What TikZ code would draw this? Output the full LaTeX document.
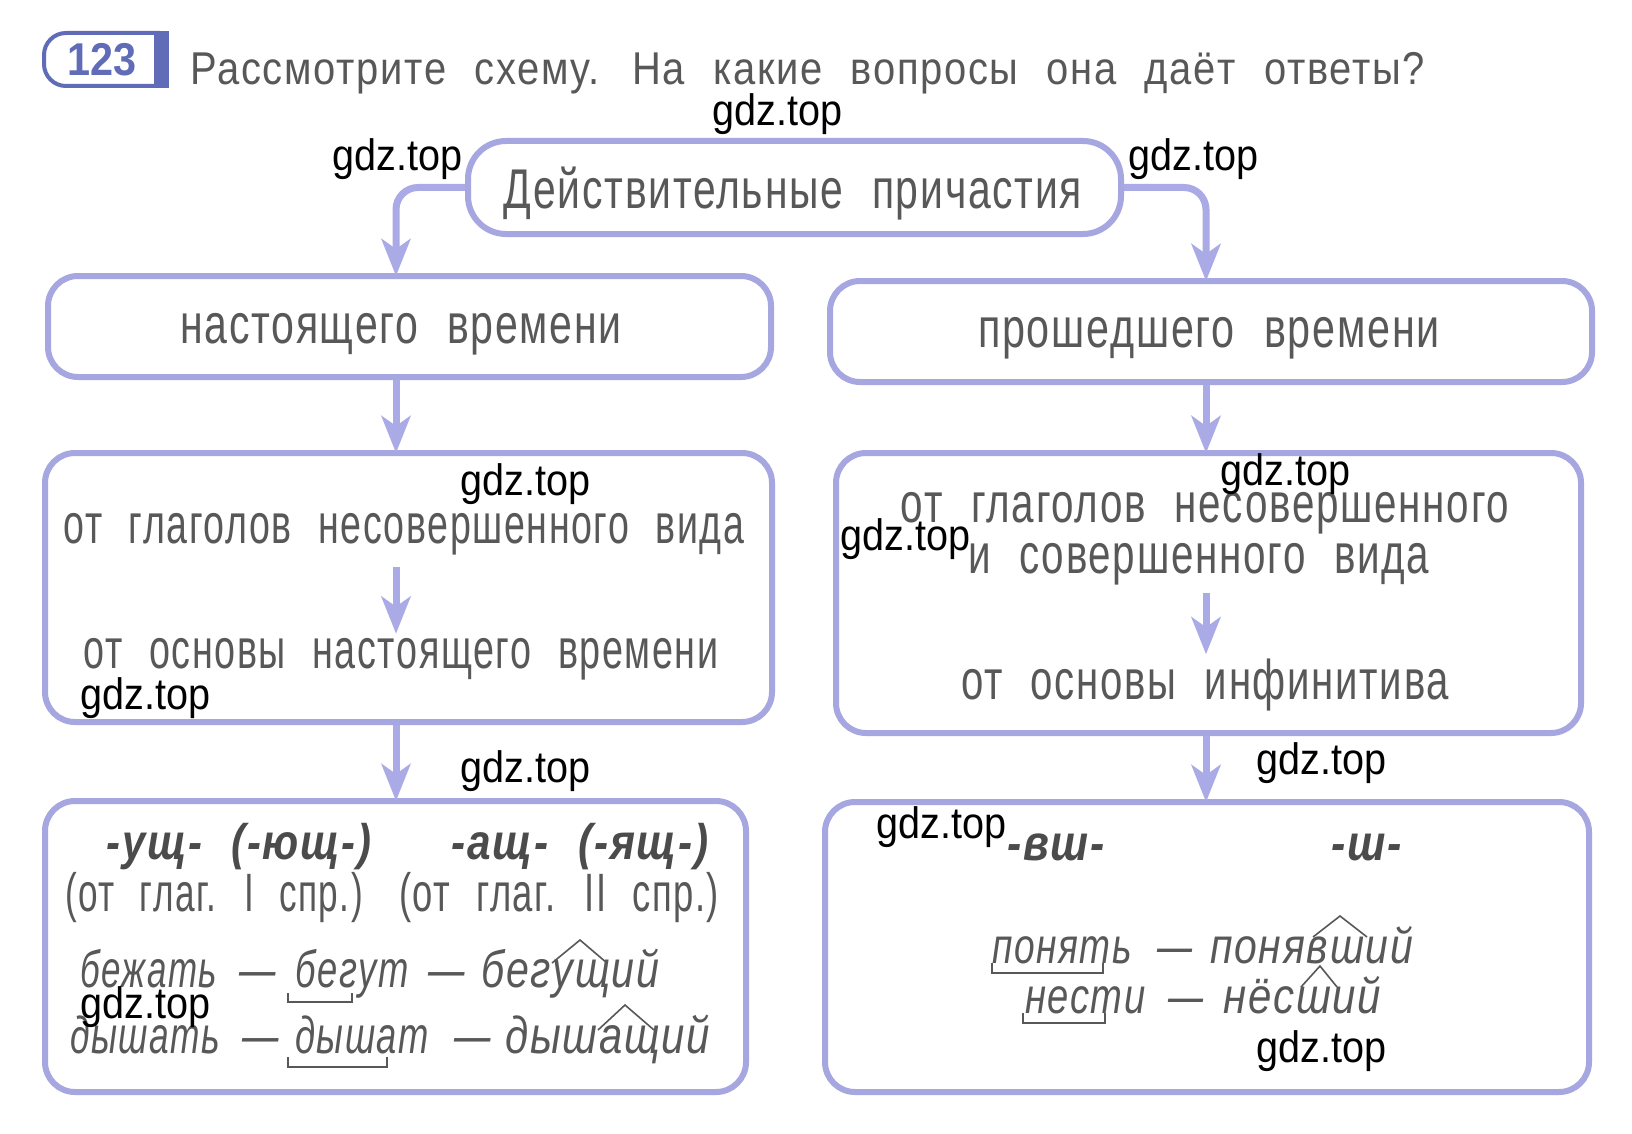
\documentclass[tikz,border=0pt]{standalone}
\usepackage{fontspec}
\usepackage{graphicx}
\usetikzlibrary{arrows.meta}
\newfontfamily\tf[FakeStretch=0.70, LetterSpace=3, WordSpace=2.2]{Liberation Sans}
\newfontfamily\wm[FakeStretch=0.9]{Liberation Sans}
\newfontfamily\bdg[FakeStretch=0.9]{Liberation Sans}
\newcommand\fsz[1]{\fontsize{#1}{#1}\selectfont}
\newcommand\sx[2]{\scalebox{#1}[1]{#2}}
\definecolor{boxc}{RGB}{166,166,224}
\definecolor{arrc}{RGB}{170,170,230}
\definecolor{txtc}{RGB}{88,88,88}
\definecolor{badgec}{RGB}{96,108,184}
\begin{document}
\begin{tikzpicture}[x=1pt,y=-1pt,
  bx/.style={draw=boxc, line width=6pt, rounded corners=30pt, fill=white, inner sep=0pt},
  arr/.style={draw=arrc, line width=7pt, -{Stealth[length=37pt,width=29pt,inset=10pt]}},
  txt/.style={text=txtc, inner sep=0pt, anchor=base, font=\tf\fsz{56}},
  exa/.style={text=txtc, inner sep=0pt, anchor=base west, font=\tf\itshape\fsz{52}},
  exb/.style={text=txtc, inner sep=0pt, anchor=base west, font=\tf\itshape\fsz{50}},
  wmk/.style={text=black, inner sep=0pt, anchor=west, font=\wm\fsz{44}},
  morph/.style={draw=txtc, line width=1.6pt}]
\useasboundingbox[fill=white] (0,0) rectangle (1632,1134);

% badge
\draw[badgec, line width=4pt, rounded corners=22pt] (160,33) -- (44,33) -- (44,86) -- (160,86);
\fill[badgec] (154,31) rectangle (169,88);
\node[text=badgec, inner sep=0pt, font=\bdg\bfseries\fsz{46}] (num) at (102,60) {123};
\node[txt, anchor=base west, font=\tf\fsz{46}] (title) at (190,85) {\sx{1.24}{Рассмотрите схему. На какие вопросы она даёт ответы?}};

% coordinates for arrow columns
\coordinate (lx) at (396,0);
\coordinate (rx) at (1206,0);

% boxes
\node[bx, rounded corners=38pt, minimum width=653pt, minimum height=93pt] (top) at (794.5,187.5) {};
\node[bx, minimum width=723pt, minimum height=101pt] (nast) at (409.5,326.5) {};
\node[bx, minimum width=762pt, minimum height=101pt] (prosh) at (1211,331.5) {};
\node[bx, minimum width=727pt, minimum height=269pt] (midL) at (408.5,587.5) {};
\node[bx, minimum width=745pt, minimum height=280pt] (midR) at (1208.5,593) {};
\node[bx, minimum width=701pt, minimum height=291pt] (botL) at (395.5,946.5) {};
\node[bx, minimum width=764pt, minimum height=290pt] (botR) at (1207,947) {};

% texts in boxes
\node[txt] (ttop) at (793,208) {\sx{1.043}{Действительные причастия}};
\node[txt] (tnast) at (401,343) {\sx{1.047}{настоящего времени}};
\node[txt] (tprosh) at (1209,347) {\sx{1.054}{прошедшего времени}};
\node[txt] (l1) at (404,543) {\sx{0.958}{от глаголов несовершенного вида}};
\node[txt] (l2) at (401,668) {\sx{0.962}{от основы настоящего времени}};
\node[txt] (r1) at (1205,522) {\sx{1.03}{от глаголов несовершенного}};
\node[txt] (r2) at (1199,573) {\sx{1.03}{и совершенного вида}};
\node[txt] (r3) at (1205,699) {\sx{1.024}{от основы инфинитива}};

\node[txt, font=\tf\bfseries\itshape\fsz{50}, text=txtc!85!black] (s1) at (239,859) {\sx{1.195}{-ущ- (-ющ-)}};
\node[txt, font=\tf\bfseries\itshape\fsz{50}, text=txtc!85!black] (s2) at (580,859) {\sx{1.21}{-ащ- (-ящ-)}};
\node[txt, font=\tf\fsz{54}] (c1) at (214,911) {\sx{0.93}{(от глаг. I спр.)}};
\node[txt, font=\tf\fsz{54}] (c2) at (559,911) {\sx{0.963}{(от глаг. II спр.)}};

% example words, bottom left
\node[exa] (e1a) at (80,987) {\sx{0.96}{бежать}};
\node[exa] (e1b) at (239,987) {—};
\node[exa] (e1c) at (295,987) {бегут};
\node[exa] (e1d) at (428,987) {—};
\node[exa] (e1e) at (481,987) {\sx{1.13}{бегущий}};
\node[exa] (e2a) at (70,1053) {\sx{0.97}{дышать}};
\node[exa] (e2b) at (242,1053) {—};
\node[exa] (e2c) at (295,1053) {дышат};
\node[exa] (e2d) at (454,1053) {—};
\node[exa] (e2e) at (505,1053) {\sx{1.15}{дышащий}};

\node[txt, font=\tf\bfseries\itshape\fsz{50}, text=txtc!85!black] (s3) at (1056,860) {\sx{1.22}{-вш-}};
\node[txt, font=\tf\bfseries\itshape\fsz{50}, text=txtc!85!black] (s4) at (1367,860) {\sx{1.23}{-ш-}};

% example words, bottom right
\node[exb] (e3a) at (992,963) {\sx{1.06}{понять}};
\node[exb] (e3b) at (1157,963) {—};
\node[exb] (e3c) at (1210,963) {\sx{1.17}{понявший}};
\node[exb] (e4a) at (1025,1013) {\sx{1.09}{нести}};
\node[exb] (e4b) at (1168,1013) {—};
\node[exb] (e4c) at (1223,1013) {\sx{1.2}{нёсший}};

% morphology marks
\draw[morph] (288,993) -- (288,1002) -- (352,1002) -- (352,993);
\draw[morph] (552,963) -- (580,940) -- (607,963);
\draw[morph] (288,1057) -- (288,1067) -- (387,1067) -- (387,1057);
\draw[morph] (598,1030) -- (625,1005) -- (654,1030);
\draw[morph] (992,963) -- (992,973) -- (1103,973) -- (1103,963);
\draw[morph] (1313,937) -- (1340,916) -- (1367,937);
\draw[morph] (1023,1013) -- (1023,1023) -- (1105,1023) -- (1105,1013);
\draw[morph] (1301,987) -- (1320,966) -- (1337,987);

% arrows
\draw[arr, rounded corners=22pt] (top.west) -| ([yshift=-3pt]nast.north -| lx);
\draw[arr, rounded corners=22pt] (top.east) -| ([yshift=-3pt]prosh.north -| rx);
\draw[arr] (nast.south -| lx) -- ([yshift=-3pt]midL.north -| lx);
\draw[arr] (prosh.south -| rx) -- ([yshift=-3pt]midR.north -| rx);
\draw[arr] (midL.south -| lx) -- ([yshift=-3pt]botL.north -| lx);
\draw[arr] (midR.south -| rx) -- ([yshift=-3pt]botR.north -| rx);
\draw[arr, shorten <=12pt, shorten >=4pt] (l1.south -| lx) -- (l2.north -| lx);
\draw[arr, shorten <=8pt, shorten >=4pt] (r2.south -| rx) -- (r3.north -| rx);

% watermarks
\node[wmk] (w1) at (712,114) {gdz.top};
\node[wmk] (w2) at (332,159) {gdz.top};
\node[wmk] (w3) at (1128,159) {gdz.top};
\node[wmk] (w4) at (460,484) {gdz.top};
\node[wmk] (w5) at (1220,474) {gdz.top};
\node[wmk] (w6) at (840,539) {gdz.top};
\node[wmk] (w7) at (80,698) {gdz.top};
\node[wmk] (w8) at (460,771) {gdz.top};
\node[wmk] (w9) at (1256,763) {gdz.top};
\node[wmk] (w10) at (876,827) {gdz.top};
\node[wmk] (w11) at (80,1007) {gdz.top};
\node[wmk] (w12) at (1256,1051) {gdz.top};
\end{tikzpicture}
\end{document}
